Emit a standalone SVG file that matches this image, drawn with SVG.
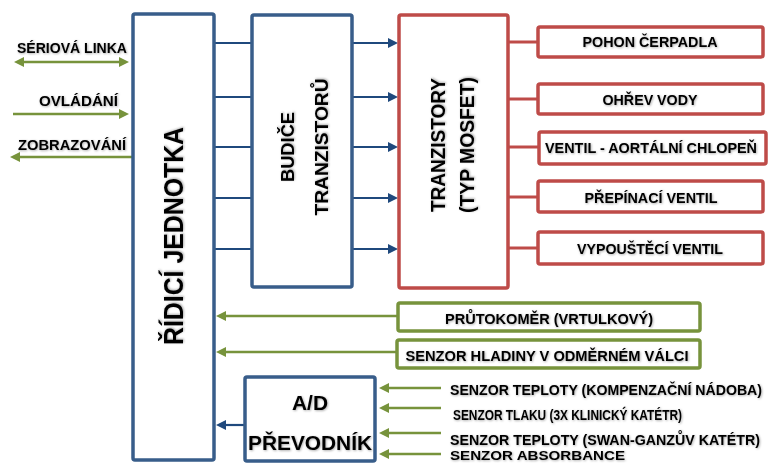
<svg xmlns="http://www.w3.org/2000/svg" width="771" height="463" viewBox="0 0 771 463">
<style>
  .bb{fill:#fff;stroke:#385D8A;stroke-width:3.5}
  .rb{fill:#fff;stroke:#BE4B48;stroke-width:3.5}
  .gb{fill:#fff;stroke:#77933C;stroke-width:3.5}
  .bl{stroke:#1F497D;stroke-width:2.2;fill:none}
  .rl{stroke:#BE4B48;stroke-width:3;fill:none}
  .gl{stroke:#77933C;stroke-width:2.6;fill:none}
  text{font-family:"Liberation Sans",Arial,sans-serif;fill:#000;filter:url(#sh)}
  .b{font-weight:bold}
  .s{font-size:14px;font-weight:bold}
  .m{text-anchor:middle}
</style>
<defs>
  <filter id="sh" x="-10%" y="-30%" width="130%" height="180%">
    <feDropShadow dx="0.8" dy="0.8" stdDeviation="0.8" flood-color="#000" flood-opacity="0.35"/>
  </filter>
  <marker id="ab" viewBox="0 0 10 10" markerWidth="10" markerHeight="10" markerUnits="userSpaceOnUse" refX="2" refY="5" orient="auto-start-reverse">
    <path d="M0,0 L10,5 L0,10 z" fill="#1F497D"/>
  </marker>
  <marker id="ag" viewBox="0 0 10 10" markerWidth="10" markerHeight="10" markerUnits="userSpaceOnUse" refX="2" refY="5" orient="auto-start-reverse">
    <path d="M0,0 L10,5 L0,10 z" fill="#77933C"/>
  </marker>
</defs>
<rect width="771" height="463" fill="#fff"/>

<g id="connectors">
  <line class="gl" x1="22" y1="62" x2="121" y2="62" marker-start="url(#ag)" marker-end="url(#ag)"/>
  <line class="gl" x1="13" y1="114" x2="121" y2="114" marker-end="url(#ag)"/>
  <line class="gl" x1="133" y1="157" x2="18" y2="157" marker-end="url(#ag)"/>
  <line class="bl" x1="214" y1="43" x2="252" y2="43"/>
  <line class="bl" x1="214" y1="97" x2="252" y2="97"/>
  <line class="bl" x1="214" y1="147" x2="252" y2="147"/>
  <line class="bl" x1="214" y1="198" x2="252" y2="198"/>
  <line class="bl" x1="214" y1="249" x2="252" y2="249"/>
  <line class="bl" x1="352" y1="43" x2="390" y2="43" marker-end="url(#ab)"/>
  <line class="bl" x1="352" y1="97" x2="390" y2="97" marker-end="url(#ab)"/>
  <line class="bl" x1="352" y1="147" x2="390" y2="147" marker-end="url(#ab)"/>
  <line class="bl" x1="352" y1="198" x2="390" y2="198" marker-end="url(#ab)"/>
  <line class="bl" x1="352" y1="249" x2="390" y2="249" marker-end="url(#ab)"/>
  <line class="rl" x1="508" y1="42" x2="538" y2="42"/>
  <line class="rl" x1="508" y1="99" x2="538" y2="99"/>
  <line class="rl" x1="508" y1="147" x2="538" y2="147"/>
  <line class="rl" x1="508" y1="197" x2="538" y2="197"/>
  <line class="rl" x1="508" y1="248" x2="538" y2="248"/>
  <line class="gl" x1="397" y1="316" x2="224" y2="316" marker-end="url(#ag)"/>
  <line class="gl" x1="396" y1="352" x2="224" y2="352" marker-end="url(#ag)"/>
  <line class="bl" x1="245" y1="425" x2="224" y2="425" marker-end="url(#ab)"/>
  <line class="gl" x1="441" y1="388" x2="387" y2="388" marker-end="url(#ag)"/>
  <line class="gl" x1="441" y1="408" x2="387" y2="408" marker-end="url(#ag)"/>
  <line class="gl" x1="441" y1="433" x2="387" y2="433" marker-end="url(#ag)"/>
  <line class="gl" x1="441" y1="454" x2="387" y2="454" marker-end="url(#ag)"/>
</g>

<g id="io-labels">
  <text class="s m" x="72" y="53" textLength="110" lengthAdjust="spacingAndGlyphs">SÉRIOVÁ LINKA</text>
  <text class="s m" x="78.5" y="106" textLength="79" lengthAdjust="spacingAndGlyphs">OVLÁDÁNÍ</text>
  <text class="s m" x="72" y="150" textLength="108" lengthAdjust="spacingAndGlyphs">ZOBRAZOVÁNÍ</text>
</g>

<g id="ridici-jednotka">
  <rect class="bb" x="133" y="14" width="81" height="446" rx="2"/>
  <text class="b m" font-size="28" transform="translate(183,236) rotate(-90)" textLength="218" lengthAdjust="spacingAndGlyphs">ŘÍDICÍ JEDNOTKA</text>
</g>

<g id="budice">
  <rect class="bb" x="252" y="15" width="100" height="272" rx="2"/>
  <text class="b m" font-size="19" transform="translate(294,147) rotate(-90)" textLength="70" lengthAdjust="spacingAndGlyphs">BUDIČE</text>
  <text class="b m" font-size="19" transform="translate(328,147) rotate(-90)" textLength="137" lengthAdjust="spacingAndGlyphs">TRANZISTORŮ</text>
</g>

<g id="tranzistory">
  <rect class="rb" x="399" y="15" width="109" height="273" rx="2"/>
  <text class="b m" font-size="20" transform="translate(445,145) rotate(-90)" textLength="134" lengthAdjust="spacingAndGlyphs">TRANZISTORY</text>
  <text class="b m" font-size="20" transform="translate(474,145) rotate(-90)" textLength="136" lengthAdjust="spacingAndGlyphs">(TYP MOSFET)</text>
</g>

<g id="pohon-cerpadla">
  <rect class="rb" x="538" y="27" width="225" height="30" rx="2"/>
  <text class="s m" x="650" y="47" textLength="135" lengthAdjust="spacingAndGlyphs">POHON ČERPADLA</text>
</g>
<g id="ohrev-vody">
  <rect class="rb" x="538" y="84" width="225" height="30" rx="2"/>
  <text class="s m" x="650" y="105" textLength="95" lengthAdjust="spacingAndGlyphs">OHŘEV VODY</text>
</g>
<g id="ventil-aortalni">
  <rect class="rb" x="539" y="132" width="227" height="32" rx="2"/>
  <text class="s m" x="651" y="153" textLength="212" lengthAdjust="spacingAndGlyphs">VENTIL - AORTÁLNÍ CHLOPEŇ</text>
</g>
<g id="prepinaci-ventil">
  <rect class="rb" x="538" y="181" width="225" height="31" rx="2"/>
  <text class="s m" x="651" y="203" textLength="133" lengthAdjust="spacingAndGlyphs">PŘEPÍNACÍ VENTIL</text>
</g>
<g id="vypousteci-ventil">
  <rect class="rb" x="538" y="232" width="225" height="32" rx="2"/>
  <text class="s m" x="650" y="254" textLength="146" lengthAdjust="spacingAndGlyphs">VYPOUŠTĚCÍ VENTIL</text>
</g>

<g id="prutokomer">
  <rect class="gb" x="398" y="303" width="302" height="28" rx="2"/>
  <text class="s m" x="549" y="324" textLength="208" lengthAdjust="spacingAndGlyphs">PRŮTOKOMĚR (VRTULKOVÝ)</text>
</g>
<g id="senzor-hladiny">
  <rect class="gb" x="397" y="340" width="303" height="28" rx="2"/>
  <text class="s m" x="547" y="361" textLength="283" lengthAdjust="spacingAndGlyphs">SENZOR HLADINY V ODMĚRNÉM VÁLCI</text>
</g>

<g id="ad-prevodnik">
  <rect class="bb" x="245" y="377" width="130" height="84" rx="2"/>
  <text class="b m" font-size="21" x="310" y="410" textLength="36" lengthAdjust="spacingAndGlyphs">A/D</text>
  <text class="b m" font-size="21" x="310" y="450" textLength="124" lengthAdjust="spacingAndGlyphs">PŘEVODNÍK</text>
</g>

<g id="sensor-labels">
  <text class="b" font-size="14" x="450" y="395" textLength="312" lengthAdjust="spacingAndGlyphs">SENZOR TEPLOTY (KOMPENZAČNÍ NÁDOBA)</text>
  <text class="b" font-size="14" x="453" y="420" textLength="229" lengthAdjust="spacingAndGlyphs">SENZOR TLAKU (3X KLINICKÝ KATÉTR)</text>
  <text class="b" font-size="14" x="450" y="445" textLength="310" lengthAdjust="spacingAndGlyphs">SENZOR TEPLOTY (SWAN-GANZŮV KATÉTR)</text>
  <text class="b" font-size="12" x="450" y="460" textLength="175" lengthAdjust="spacingAndGlyphs">SENZOR ABSORBANCE</text>
</g>
</svg>
